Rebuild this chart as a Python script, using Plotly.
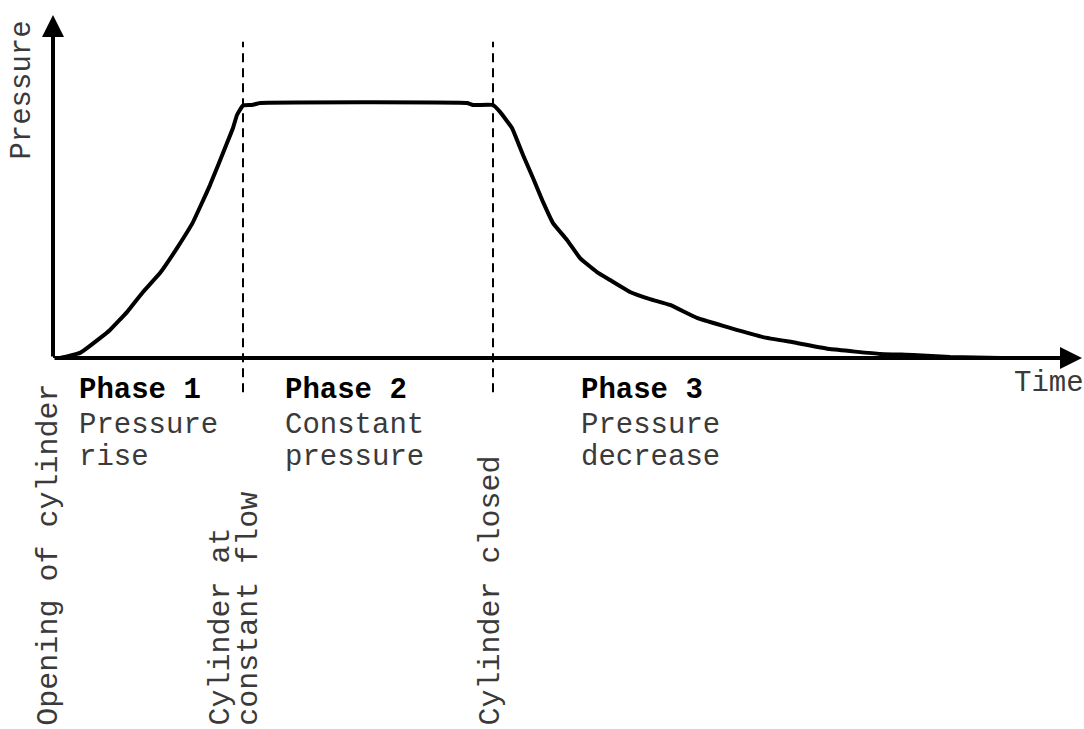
import plotly.graph_objects as go

# Curve (time in arbitrary units, pressure normalised to plateau = 1)
time = [0.00, 0.07, 0.27, 0.47, 0.57, 0.74, 0.90, 1.07, 1.24, 1.40, 1.57, 1.74, 1.80, 1.84, 1.90,
        1.99, 2.07, 4.14, 4.20, 4.40,
        4.47, 4.59, 4.70, 4.80, 4.90, 5.00, 5.14, 5.27, 5.44, 5.57, 5.77, 5.97, 6.17,
        6.44, 6.77, 7.10, 7.44, 7.77, 8.27, 8.60, 8.97, 9.47]
pressure = [0.000, 0.000, 0.020, 0.078, 0.110, 0.180, 0.259, 0.333, 0.431, 0.533, 0.678, 0.843, 0.902, 0.953, 0.990,
            0.992, 1.000, 1.000, 0.992, 0.992,
            0.965, 0.902, 0.796, 0.706, 0.612, 0.529, 0.463, 0.392, 0.337, 0.306, 0.259, 0.231, 0.208,
            0.157, 0.118, 0.082, 0.059, 0.035, 0.016, 0.012, 0.004, 0.000]

# Event markers (dashed lines)
event_times = [1.9, 4.4]

# Phase labels (title + two description lines)
phase_titles = ["Phase 1", "Phase 2", "Phase 3"]
phase_line1 = ["Pressure", "Constant", "Pressure"]
phase_line2 = ["rise", "pressure", "decrease"]
phase_x = [0.235, 2.30, 5.26]

# Event labels (rotated, one entry per text column)
event_label_lines = ["Opening of cylinder", "Cylinder at", "constant flow", "Cylinder closed"]
event_label_px = [-0.004, 0.163, 0.1905, 0.4255]   # paper x of each column

X_MAX = 10.29
Y_MAX = 1.345

FONT = "Courier New, Liberation Mono, monospace"
FS = 29
FS_ROT = 30
GREY = "#3a3a3a"

fig = go.Figure()
fig.add_trace(go.Scatter(x=time, y=pressure, mode="lines",
                         line=dict(color="black", width=4, shape="spline", smoothing=0.3),
                         hoverinfo="skip", showlegend=False, cliponaxis=False))

for t in event_times:
    fig.add_shape(type="line", xref="x", yref="paper", x0=t, x1=t, y0=-0.10, y1=0.922,
                  line=dict(color="black", width=2, dash="9px,6px"))

# axes arrows
fig.add_annotation(x=X_MAX, y=0, ax=0, ay=0, xref="x", yref="y", axref="x", ayref="y",
                   showarrow=True, arrowhead=2, arrowwidth=4, arrowsize=1.1, arrowcolor="black",
                   text="", standoff=0)
fig.add_annotation(x=0, y=Y_MAX, ax=0, ay=0, xref="x", yref="y", axref="x", ayref="y",
                   showarrow=True, arrowhead=2, arrowwidth=4, arrowsize=1.1, arrowcolor="black",
                   text="", standoff=0)

# axis titles
fig.add_annotation(x=1.004, y=-0.074, xref="paper", yref="paper", text="Time", showarrow=False,
                   xanchor="right", yanchor="middle", font=dict(family=FONT, size=FS, color=GREY))
fig.add_annotation(x=-0.030, y=0.78, xref="paper", yref="paper", text="Pressure", showarrow=False,
                   textangle=-90, xanchor="center", yanchor="middle",
                   font=dict(family=FONT, size=FS, color=GREY))

for xp, title, l1, l2 in zip(phase_x, phase_titles, phase_line1, phase_line2):
    fig.add_annotation(x=xp, y=-0.095, xref="x", yref="paper", text="<b>" + title + "</b>",
                       showarrow=False, xanchor="left", yanchor="middle",
                       font=dict(family=FONT, size=FS, color="black"))
    fig.add_annotation(x=xp, y=-0.196, xref="x", yref="paper", text=l1,
                       showarrow=False, xanchor="left", yanchor="middle",
                       font=dict(family=FONT, size=FS, color=GREY))
    fig.add_annotation(x=xp, y=-0.290, xref="x", yref="paper", text=l2,
                       showarrow=False, xanchor="left", yanchor="middle",
                       font=dict(family=FONT, size=FS, color=GREY))

for xp, lab in zip(event_label_px, event_label_lines):
    fig.add_annotation(x=xp, y=-1.078, xref="paper", yref="paper", text=lab,
                       showarrow=False, textangle=-90, xanchor="center", yanchor="bottom",
                       font=dict(family=FONT, size=FS_ROT, color=GREY))

fig.update_layout(
    width=1084, height=729,
    margin=dict(l=53, r=2, t=15, b=371),
    paper_bgcolor="white", plot_bgcolor="white",
    xaxis=dict(range=[0, X_MAX], visible=False, fixedrange=True),
    yaxis=dict(range=[0, Y_MAX], visible=False, fixedrange=True),
)

# remove the browser's default 8 px body margin so the figure fills the window
fig.write_html("out.html", config={"displayModeBar": False},
               post_script="document.body.style.margin='0px';")
